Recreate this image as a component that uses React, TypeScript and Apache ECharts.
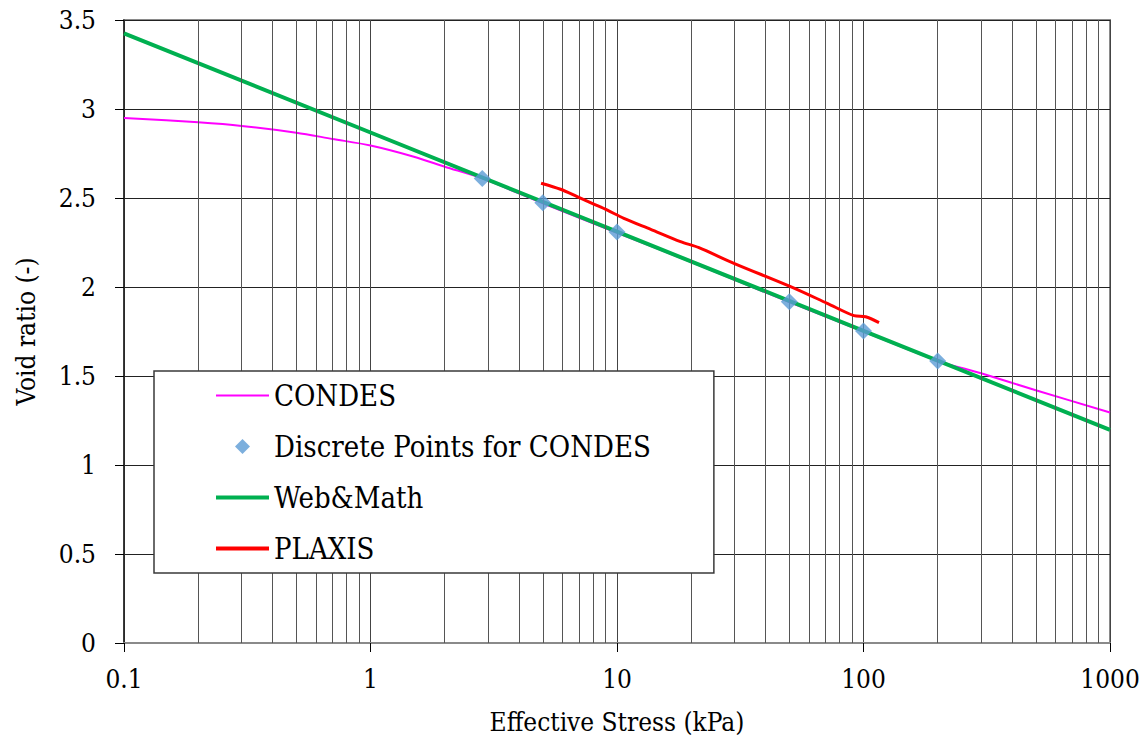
import React, { useEffect, useRef } from "react";
import * as echarts from "echarts";

// Effective stress (kPa) vs void ratio (-)
const condesStress = [0.1, 0.2, 0.3, 0.5, 0.7, 1, 1.5, 2, 2.84, 5, 10, 20, 50, 100, 200, 300, 500, 1000];
const condesVoid = [2.95, 2.925, 2.905, 2.867, 2.832, 2.795, 2.732, 2.676, 2.61, 2.47, 2.305, 2.14, 1.915, 1.75, 1.585, 1.515, 1.42, 1.295];

const pointStress = [2.84, 5, 10, 50, 100, 200];
const pointVoid = [2.61, 2.474, 2.309, 1.917, 1.753, 1.584];

const webStress = [0.1, 1, 10, 100, 1000];
const webVoid = [3.425, 2.868, 2.311, 1.754, 1.197];

const plaxisStress = [4.92, 5.9, 6.89, 8.05, 9.1, 10.66, 13.7, 18.1, 21.5, 29.8, 50.6, 71.3, 91.5, 102, 115.6];
const plaxisVoid = [2.583, 2.549, 2.508, 2.466, 2.433, 2.386, 2.324, 2.255, 2.221, 2.133, 2.002, 1.908, 1.839, 1.833, 1.8];

const decades = [0.1, 1, 10, 100];
const minorMultipliers = [2, 3, 4, 5, 6, 7, 8, 9];

const FONT = "DejaVu Serif Condensed";

const pairs = (xs: number[], ys: number[]) => xs.map((x, i) => [x, ys[i]]);

export default function App() {
  const ref = useRef<HTMLDivElement>(null);
  useEffect(() => {
    if (!ref.current) return;
    const chart = echarts.init(ref.current, undefined, { renderer: "svg" });
    const minorValues: number[] = [];
    decades.forEach((d) => minorMultipliers.forEach((m) => minorValues.push(Number((d * m).toPrecision(6)))));
    chart.setOption({
      animation: false,
      backgroundColor: "#ffffff",
      grid: {
        left: 124,
        top: 20,
        right: 38,
        bottom: 99,
        containLabel: false,
        outerBoundsMode: "none",
        show: true,
        borderColor: "#8a8a8a",
        borderWidth: 2,
        backgroundColor: "transparent",
      },
      legend: {
        orient: "vertical",
        left: 154,
        top: 371,
        itemWidth: 53,
        itemHeight: 15,
        itemGap: 22,
        symbolKeepAspect: true,
        padding: [10, 63, 10, 62],
        backgroundColor: "#ffffff",
        borderColor: "#3a3a3a",
        borderWidth: 1.5,
        textStyle: { fontFamily: FONT, fontSize: 29, color: "#000", lineHeight: 29 },
        data: [
          { name: "CONDES", icon: "path://M0,0H53V2H0Z" },
          { name: "Discrete Points for CONDES", icon: "path://M7.5,0L15,7.5L7.5,15L0,7.5Z" },
          { name: "Web&Math", icon: "path://M0,0H53V4H0Z" },
          { name: "PLAXIS", icon: "path://M0,0H53V4H0Z" },
        ],
        z: 10,
      },
      xAxis: {
        type: "log",
        logBase: 10,
        min: 0.1,
        max: 1000,
        interval: 1,
        name: "Effective Stress (kPa)",
        nameLocation: "middle",
        nameGap: 66,
        nameTextStyle: { fontFamily: FONT, fontSize: 26, color: "#000" },
        axisLine: { show: true, lineStyle: { color: "#8a8a8a", width: 2 } },
        axisTick: { show: true, inside: false, length: 9, lineStyle: { color: "#000", width: 1 } },
        axisLabel: {
          fontFamily: FONT,
          fontSize: 26,
          color: "#000",
          margin: 23,
          formatter: (v: number) => String(Number(v.toPrecision(6))),
        },
        splitLine: { show: true, lineStyle: { color: "#444", width: 1 } },
      },
      yAxis: {
        type: "value",
        min: 0,
        max: 3.5,
        interval: 0.5,
        name: "Void ratio (-)",
        nameLocation: "middle",
        nameGap: 85,
        nameTextStyle: { fontFamily: FONT, fontSize: 26, color: "#000" },
        axisLine: { show: true, lineStyle: { color: "#222", width: 1.5 } },
        axisTick: { show: true, inside: false, length: 9, lineStyle: { color: "#000", width: 1 } },
        axisLabel: { fontFamily: FONT, fontSize: 26, color: "#000", margin: 28 },
        splitLine: { show: true, lineStyle: { color: "#222", width: 1 } },
      },
      series: [
        {
          name: "minor",
          type: "line",
          data: [],
          silent: true,
          z: 1,
          markLine: {
            silent: true,
            symbol: "none",
            label: { show: false },
            lineStyle: { color: "#555", width: 1, type: "solid" },
            data: minorValues.map((v) => ({ xAxis: v })),
          },
        },
        {
          name: "CONDES",
          type: "line",
          data: pairs(condesStress, condesVoid),
          smooth: 0.3,
          showSymbol: false,
          symbol: "none",
          lineStyle: { color: "#ff00ff", width: 2 },
          itemStyle: { color: "#ff00ff" },
          z: 3,
        },
        {
          name: "Web&Math",
          type: "line",
          data: pairs(webStress, webVoid),
          showSymbol: false,
          symbol: "none",
          lineStyle: { color: "#00b050", width: 4 },
          itemStyle: { color: "#00b050" },
          z: 4,
        },
        {
          name: "PLAXIS",
          type: "line",
          data: pairs(plaxisStress, plaxisVoid),
          smooth: 0.3,
          showSymbol: false,
          symbol: "none",
          lineStyle: { color: "#ff0000", width: 3 },
          itemStyle: { color: "#ff0000" },
          z: 5,
        },
        {
          name: "Discrete Points for CONDES",
          type: "scatter",
          data: pairs(pointStress, pointVoid),
          symbol: "diamond",
          symbolSize: 17,
          itemStyle: { color: "#5b9bd5" },
          z: 6,
        },
      ],
    });
    return () => chart.dispose();
  }, []);
  return (
    <div
      ref={ref}
      style={{ position: "fixed", left: 0, top: 0, width: 1148, height: 742, background: "#fff" }}
    />
  );
}
